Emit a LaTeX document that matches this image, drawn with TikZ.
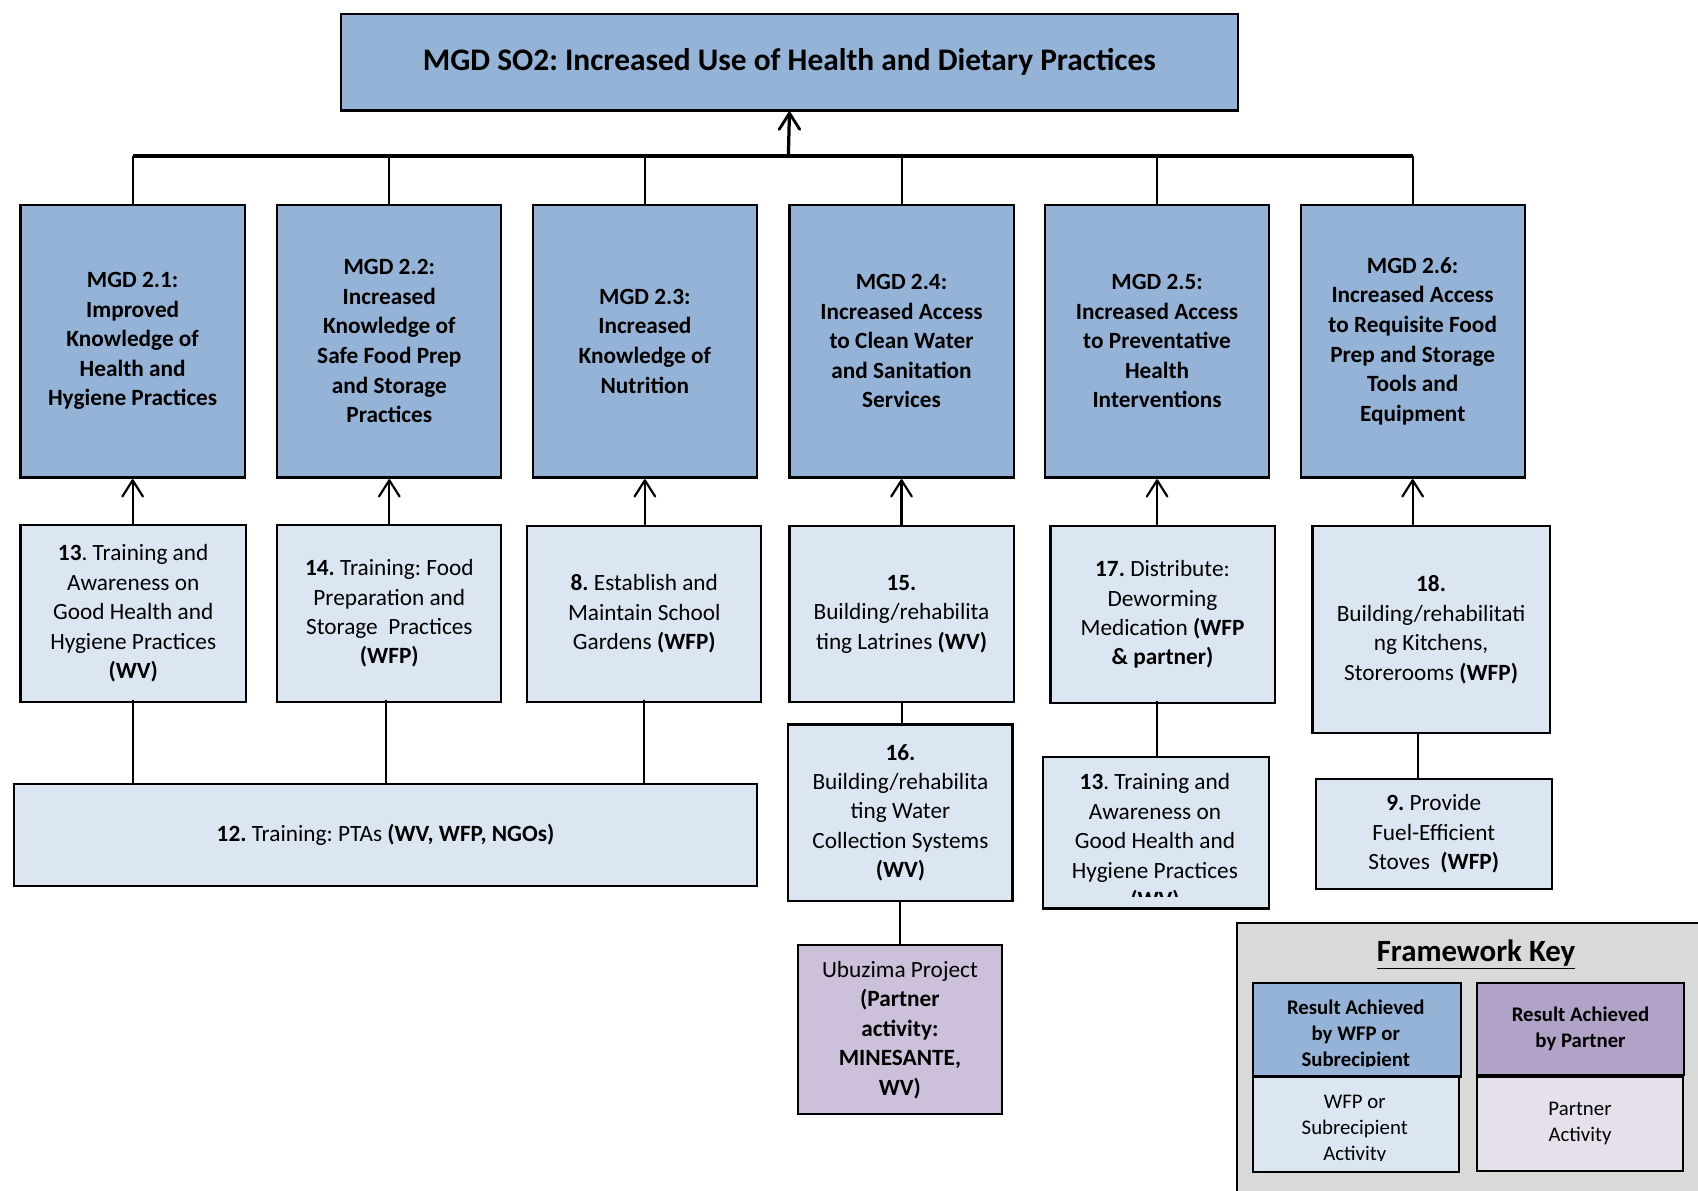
\documentclass[tikz,border=0pt]{standalone}
\usepackage{fontspec}
\setmainfont{Carlito}
\usetikzlibrary{arrows.meta}
\definecolor{mgdblue}{HTML}{95B3D7}
\definecolor{actblue}{HTML}{DCE6F2}
\definecolor{ubpurple}{HTML}{CCC0DA}
\definecolor{keypurple}{HTML}{B3A2C7}
\definecolor{keylav}{HTML}{E5E0EC}
\definecolor{keygray}{HTML}{D9D9D9}
\frenchspacing
\newcommand\upbarb[2]{\draw[line width=#2, line cap=round, line join=round] (#1) ++(-9.5,15) -- ++(9.5,-15) -- ++(9.5,15);}
\begin{document}
\begin{tikzpicture}[x=1pt,y=-1pt,
  bx/.style={draw=black, line width=2pt, inner sep=0pt, align=center, anchor=north west},
  mgd/.style={bx, fill=mgdblue, minimum width=207, minimum height=252, font=\fontsize{21.5}{27.3}\selectfont\bfseries},
  act/.style={bx, fill=actblue, font=\fontsize{21.5}{27.2}\selectfont},
  txt/.style={align=center, inner sep=0pt},
  conn/.style={line width=1.8pt},
  arr/.style={line width=2pt}]
\clip (0,0) rectangle (1568,1099);
\fill[white] (0,0) rectangle (1568,1099);

% top
\node[bx, fill=mgdblue, minimum width=828, minimum height=89, font=\fontsize{29}{35}\selectfont\bfseries] (top) at (314,12) {MGD SO2: Increased Use of Health and Dietary Practices};

% MGD boxes
\node[mgd] (m1) at (18,188) {MGD 2.1:\\Improved\\Knowledge of\\Health and\\Hygiene Practices};
\node[mgd] (m2) at (255,188) {MGD 2.2:\\Increased\\Knowledge of\\Safe Food Prep\\and Storage\\Practices};
\node[mgd] (m3) at (491,188) {MGD 2.3:\\Increased\\Knowledge of\\Nutrition};
\node[mgd] (m4) at (728,188) {MGD 2.4:\\Increased Access\\to Clean Water\\and Sanitation\\Services};
\node[mgd] (m5) at (964,188) {MGD 2.5:\\Increased Access\\to Preventative\\Health\\Interventions};
\node[mgd] (m6) at (1200,188) {MGD 2.6:\\Increased Access\\to Requisite Food\\Prep and Storage\\Tools and\\Equipment};

\coordinate (bar) at (728,144);
\draw[line width=3pt] (m1.north |- bar) -- (m6.north |- bar);
\foreach \m in {m1,m2,m3,m4,m5,m6} \draw[conn] (\m.north) -- (\m.north |- bar);
\coordinate (toptip) at ([yshift=-1.5pt]top.south);
\draw[line width=3pt] (bar) -- (toptip);
\upbarb{toptip}{2.6pt}

% activity row
\node[act, minimum width=208, minimum height=163] (a13) at (18,484) {\textbf{13}. Training and\\Awareness on\\Good Health and\\Hygiene Practices\\\textbf{(WV)}};
\node[act, minimum width=207, minimum height=163] (a14) at (255,484) {\textbf{14.} Training: Food\\Preparation and\\Storage~ Practices\\\textbf{(WFP)}};
\node[act, minimum width=216, minimum height=162] (a8) at (486,485) {\textbf{8.} Establish and\\Maintain School\\Gardens \textbf{(WFP)}};
\node[act, minimum width=207, minimum height=162] (a15) at (728,485) {\textbf{15.}\\Building/rehabilita\\ting Latrines \textbf{(WV)}};
\node[act, minimum width=207, minimum height=163] (a17) at (969,485) {\textbf{17.} Distribute:\\Deworming\\Medication \textbf{(WFP}\\\textbf{\& partner)}};
\node[act, minimum width=219, minimum height=191] (a18) at (1211,485) {\textbf{18.}\\Building/rehabilitati\\ng Kitchens,\\Storerooms \textbf{(WFP)}};

\foreach \m/\a in {m1/a13,m2/a14,m3/a8,m4/a15,m5/a17,m6/a18} {
  \coordinate (tip\m) at ([yshift=-1.5pt]\m.south);
  \draw[arr] (\m.south |- \a.north) -- (tip\m);
  \upbarb{tip\m}{2pt}
}

% lower boxes
\node[act, minimum width=686, minimum height=94] (a12) at (12,723) {\textbf{12.} Training: PTAs \textbf{(WV, WFP, NGOs)}};
\node[act, minimum width=207, minimum height=163] (a16) at (727,668) {\textbf{16.}\\Building/rehabilita\\ting Water\\Collection Systems\\\textbf{(WV)}};
\node[bx, fill=ubpurple, minimum width=188, minimum height=156, font=\fontsize{21.5}{27.2}\selectfont] (ub) at (736,872) {Ubuzima Project\\\textbf{(Partner}\\\textbf{activity:}\\\textbf{MINESANTE,}\\\textbf{WV)}};
\node[act, minimum width=209, minimum height=140] (b13) at (962,698) {};
\begin{scope}
\clip (962,699) rectangle (1171,828);
\node[txt, font=\fontsize{21.5}{27.2}\selectfont] (b13t) at (1066.5,778) {\textbf{13}. Training and\\Awareness on\\Good Health and\\Hygiene Practices\\\textbf{(WV)}};
\end{scope}
\node[act, minimum width=218, minimum height=102] (a9) at (1214,718) {\textbf{9.} Provide\\Fuel-Efficient\\Stoves~ \textbf{(WFP)}};

\draw[conn] ([yshift=3]a13.south) -- (a13.south |- a12.north);
\draw[conn] ([xshift=-3,yshift=3]a14.south) -- ([xshift=-3]a14.south |- a12.north);
\draw[conn] ([xshift=-0.5,yshift=3]a8.south) -- ([xshift=-0.5]a8.south |- a12.north);
\draw[conn] (a15.south) -- (a15.south |- a16.north);
\draw[conn] (a16.south) -- (a16.south |- ub.north);
\draw[conn] ([yshift=3]m5.south |- a17.south) -- (m5.south |- b13.north);
\draw[conn] ([xshift=-12]a18.south) -- ([xshift=-12]a18.south |- a9.north);

% framework key
\draw[fill=keygray, line width=2pt] (1142,852) rectangle (1620,1140);
\node[txt, font=\fontsize{28.5}{34}\selectfont\bfseries] (kt) at (1363,881) {\underline{Framework Key}};
\node[bx, fill=mgdblue, minimum width=192, minimum height=86] (k1) at (1156,907) {};
\begin{scope}
\clip (1157,908) rectangle (1347,985);
\node[txt, font=\fontsize{19.2}{24}\selectfont\bfseries] (k1t) at (1252,955.5) {Result Achieved\\by WFP or\\Subrecipient};
\end{scope}
\node[bx, fill=actblue, minimum width=190, minimum height=88] (k2) at (1156,993) {};
\begin{scope}
\clip (1157,994) rectangle (1345,1072);
\node[txt, font=\fontsize{19.2}{24.3}\selectfont] (k2t) at (1251,1043) {WFP or\\Subrecipient\\Activity};
\end{scope}
\node[bx, fill=keypurple, minimum width=191, minimum height=85, font=\fontsize{19.2}{24}\selectfont\bfseries] (k3) at (1363,907) {Result Achieved\\by Partner};
\node[bx, fill=keylav, minimum width=190, minimum height=87, font=\fontsize{19.2}{24.5}\selectfont] (k4) at (1363,993) {Partner\\Activity};
\end{tikzpicture}
\end{document}
